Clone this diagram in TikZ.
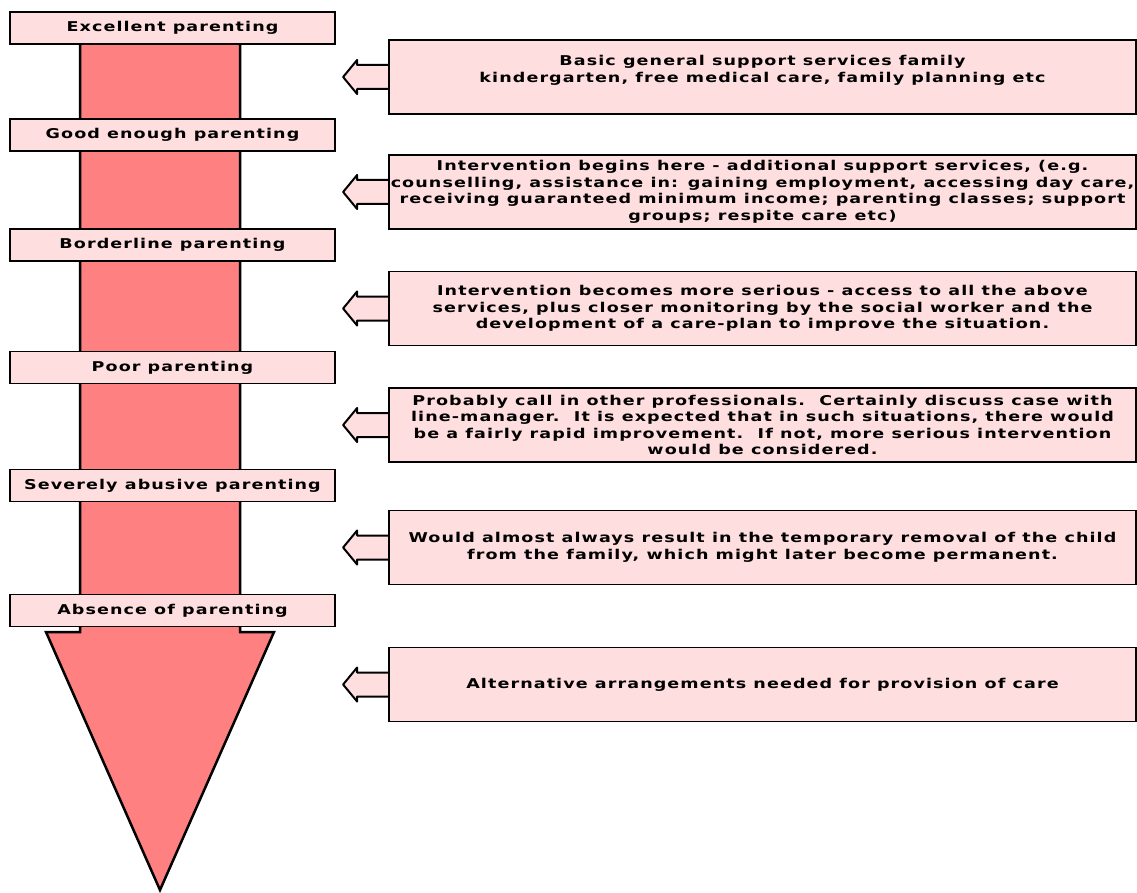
\documentclass[tikz,border=0pt]{standalone}
\usepackage{fontspec}
\setmainfont{DejaVu Sans}[FakeStretch=1.3,LetterSpace=8]
\usetikzlibrary{backgrounds}

\definecolor{palepink}{RGB}{255,222,224}
\definecolor{salmon}{RGB}{255,128,128}

\begin{document}
\begin{tikzpicture}
	[x=1pt,y=-1pt,
	 level/.style={draw, line width=1.8pt, fill=palepink, minimum width=325pt, minimum height=32pt, inner sep=0pt, font=\bfseries\fontsize{13.5}{15}\selectfont},
	 advice/.style={draw, line width=1.8pt, fill=palepink, minimum width=747pt, minimum height=74pt, inner sep=0pt, align=center, font=\bfseries\fontsize{13.5}{16.5}\selectfont},
	 pointer/.style={draw, line width=2pt, fill=palepink, line join=round}]
	\useasboundingbox (0,0) rectangle (1137,893);

	%big arrow
	\draw[line width=2.5pt, fill=salmon, line join=miter] (80,30) -- (80,632) -- (46,632) -- (160,890) -- (274,632) -- (240,632) -- (240,30);

	%levels
	\node (excellent) [level] at (172.5,28) {Excellent parenting};
	\node (good) [level] at (172.5,135) {Good enough parenting};
	\node (borderline) [level] at (172.5,245) {Borderline parenting};
	\node (poor) [level] at (172.5,367.5) {Poor parenting};
	\node (severe) [level] at (172.5,485.5) {Severely abusive parenting};
	\node (absence) [level] at (172.5,610.5) {Absence of parenting};

	%responses
	\node (basic) [advice] at (762.5,77) {Basic general support services family\\kindergarten, free medical care, family planning etc\\~};
	\node (begins) [advice] at (762.5,192) {Intervention begins here - additional support services, (e.g.\\counselling, assistance in: gaining employment, accessing day care,\\receiving guaranteed minimum income; parenting classes; support\\groups; respite care etc)};
	\node (serious) [advice] at (762.5,308.5) {Intervention becomes more serious - access to all the above\\services, plus closer monitoring by the social worker and the\\development of a care-plan to improve the situation.};
	\node (experts) [advice] at (762.5,425) {Probably call in other professionals.\ \ Certainly discuss case with\\line-manager.\ \ It is expected that in such situations, there would\\be a fairly rapid improvement.\ \ If not, more serious intervention\\would be considered.};
	\node (removal) [advice] at (762.5,547.5) {Would almost always result in the temporary removal of the child\\from the family, which might later become permanent.};
	\node (alternative) [advice] at (762.5,684.5) {Alternative arrangements needed for provision of care};

	%pointers
	\begin{scope}[on background layer]
	\foreach \resp in {basic,begins,serious,experts,removal,alternative}
		\draw[pointer] ([yshift=-12pt]\resp.west) -- ++(-31,0) -- ++(0,5) -- ++(-14,-17) -- ++(14,-17) -- ++(0,5) -- ++(31,0);
	\end{scope}
\end{tikzpicture}
\end{document}
